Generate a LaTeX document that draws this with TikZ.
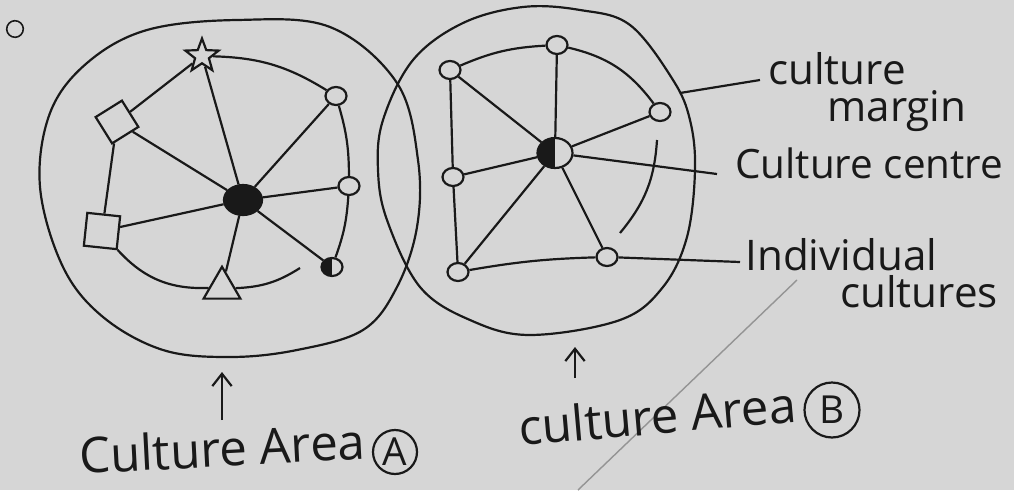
\documentclass[tikz,border=0pt]{standalone}
\usepackage{fontspec}
\setmainfont{Open Sans}
\usetikzlibrary{shapes.geometric,arrows.meta}
\definecolor{paper}{RGB}{214,214,214}
\definecolor{ink}{RGB}{25,25,25}

\begin{document}
\begin{tikzpicture}[
  x=0.02cm, y=-0.02cm,
  pen/.style={draw=ink, line width=1.25pt},
  hub/.style={pen, ellipse, fill=ink, minimum width=0.76cm, minimum height=0.6cm, inner sep=0pt},
  halfhub/.style={pen, ellipse, inner sep=0pt,
    path picture={\fill[ink] (path picture bounding box.south west) rectangle (path picture bounding box.north);}},
  member/.style={pen, ellipse, minimum width=0.42cm, minimum height=0.36cm, inner sep=0pt},
  note/.style={text=ink, font=\fontsize{24}{21}\selectfont, inner sep=0pt},
  area/.style={text=ink, font=\fontsize{28}{28}\selectfont, inner sep=0pt},
  tag/.style={pen, circle, text=ink, inner sep=0pt, minimum size=0.88cm, font=\fontsize{22}{22}\selectfont},
  >={Straight Barb[length=7pt,width=11pt]}
]

% paper
\fill[paper] (0,0) rectangle (1014,490);
\node[pen, ellipse, line width=0.9pt, minimum width=0.2cm, minimum height=0.28cm, rotate=-20] (speck) at (15,29) {};
\coordinate (f0) at (797,280);
\coordinate (f1) at (578,490);
\draw[ink!35!paper, line width=0.8pt] (f0) -- (f1);

% ------------------------------------------------------------
% Culture area A
% ------------------------------------------------------------
\draw[pen] plot[smooth cycle, tension=0.6] coordinates {
  (237,20) (330,27) (397,83) (418,160) (417,227) (397,287) (363,330) (297,350)
  (230,357) (163,350) (103,317) (63,267) (40,187) (50,113) (87,63) (147,30)};

\node[hub] (hubA) at (243,200) {};
\node[pen, star, star points=5, star point ratio=2.4, minimum size=0.7cm, inner sep=0pt] (starA) at (202,56) {};
\node[pen, rectangle, rotate=32, minimum size=0.62cm, inner sep=0pt] (diaA) at (117,122) {};
\node[pen, rectangle, rotate=-6, minimum size=0.66cm, inner sep=0pt] (sqA) at (102,231) {};
\node[pen, regular polygon, regular polygon sides=3, minimum size=0.85cm, inner sep=0pt] (triA) at (222,288) {};
\node[member] (ovA1) at (336,96) {};
\node[member] (ovA2) at (349,186) {};
\node[member, halfhub] (ovA3) at (332,267) {};

\foreach \n in {starA,diaA,sqA,triA,ovA1,ovA2,ovA3}
  \draw[pen] (hubA) -- (\n);

% ring
\draw[pen] (diaA) -- (starA);
\draw[pen] (starA) to[bend left=15] (ovA1);
\draw[pen] (ovA1) to[bend left=8] (ovA2);
\draw[pen] (ovA2) to[bend left=8] (ovA3);
\draw[pen] (diaA) -- (sqA);
\draw[pen] (sqA) to[bend right=25] (triA);
\coordinate (arcA) at (300,268);
\draw[pen] (triA) to[bend right=15] (arcA);

% ------------------------------------------------------------
% Culture area B
% ------------------------------------------------------------
\draw[pen] plot[smooth cycle, tension=0.6] coordinates {
  (523,7) (580,10) (630,25) (673,80) (690,120) (695,170) (687,237) (663,287)
  (620,320) (530,335) (470,320) (420,287) (387,220) (378,170) (383,120) (413,60) (463,23)};

\node[halfhub, minimum width=0.7cm, minimum height=0.6cm] (hubB) at (555,153) {};
\node[member] (ovB1) at (450,70) {};
\node[member] (ovB2) at (557,45) {};
\node[member] (ovB3) at (660,112) {};
\node[member] (ovB4) at (453,177) {};
\node[member] (ovB5) at (458,272) {};
\node[member] (ovB6) at (607,257) {};

\foreach \n in {ovB1,ovB2,ovB3,ovB4,ovB5,ovB6}
  \draw[pen] (hubB) -- (\n);

% ring
\draw[pen] (ovB1) to[bend left=10] (ovB2);
\draw[pen] (ovB2) to[bend left=20] (ovB3);
\draw[pen] (ovB1) -- (ovB4);
\draw[pen] (ovB4) -- (ovB5);
\draw[pen] (ovB5) to[bend left=4] (ovB6);
\coordinate (arcB1) at (657,140);
\coordinate (arcB2) at (620,233);
\draw[pen] (arcB1) to[bend left=18] (arcB2);

% ------------------------------------------------------------
% Labels
% ------------------------------------------------------------
\node[note, anchor=north west, align=left] (margin) at (768,52) {culture\\\hspace{1.18cm}margin};
\coordinate (mB) at (680,93);
\coordinate (mEnd) at (760,80);
\draw[pen] (mB) -- (mEnd);

\node[note, font=\fontsize{23}{21}\selectfont, anchor=base west] (centre) at (735,178) {Culture centre};
\coordinate (cEnd) at (717,174);
\draw[pen] (hubB) -- (cEnd);

\node[note, anchor=north west, align=left] (indiv) at (745,238) {Individual\\\hspace{1.9cm}cultures};
\coordinate (iEnd) at (740,262);
\draw[pen] (ovB6) -- (iEnd);

\coordinate (arrA0) at (222,420);
\coordinate (arrA1) at (222,372);
\draw[pen, ->] (arrA0) -- (arrA1);
\coordinate (arrB0) at (575,378);
\coordinate (arrB1) at (575,347);
\draw[pen, ->] (arrB0) -- (arrB1);

\node[area, anchor=base west, rotate=3] (areaA) at (80,474) {Culture Area};
\node[tag] (tagA) at (395,452) {A};
\node[area, anchor=base west, rotate=5] (areaB) at (520,446) {culture Area};
\node[tag, minimum size=1.1cm] (tagB) at (832,410) {B};

\end{tikzpicture}
\end{document}
